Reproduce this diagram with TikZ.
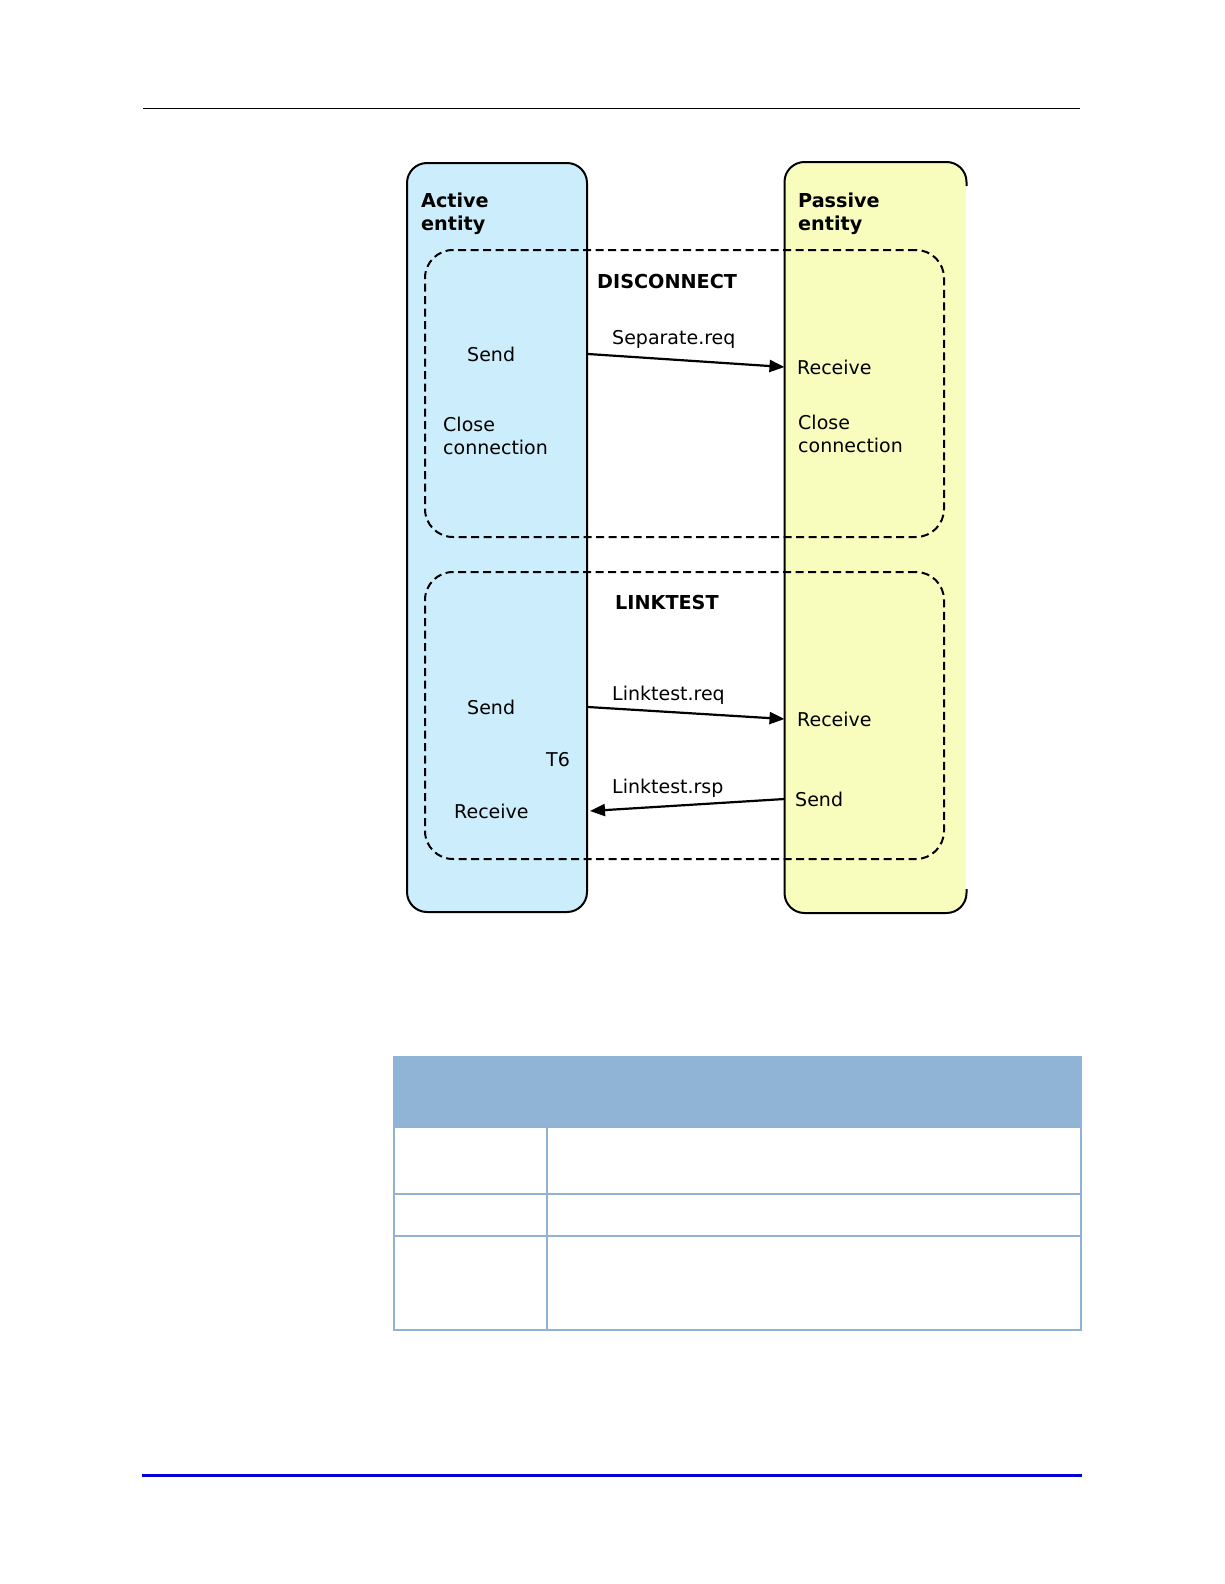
\documentclass[tikz,border=0pt]{standalone}
\usepackage{fontspec}
\setmainfont{DejaVu Sans}
\usepackage{tikz}
\usetikzlibrary{arrows.meta,positioning}
\definecolor{activefill}{RGB}{204,238,252}
\definecolor{passivefill}{RGB}{248,253,190}
\definecolor{tablehead}{RGB}{143,180,214}
\definecolor{tableline}{RGB}{146,178,211}
\definecolor{rulenavy}{RGB}{0,0,215}

\begin{document}
\begin{tikzpicture}[
 x=1pt,y=-1pt,
 lane/.style={draw,line width=2pt,rounded corners=20pt,minimum width=180pt,minimum height=749pt,inner sep=0pt},
 frame/.style={draw,dashed,dash pattern=on 8pt off 4.5pt,line width=2pt,rounded corners=28pt,minimum width=519pt,minimum height=287pt,inner sep=0pt},
 lbl/.style={anchor=west,inner sep=0pt,align=left,font=\fontsize{19}{22.5}\selectfont},
 head/.style={lbl,font=\fontsize{19.2}{22.5}\selectfont\bfseries},
 msg/.style={-{Triangle[length=15pt,width=12pt]},line width=2.2pt}
]
\useasboundingbox (0,0) rectangle (1224,1584);
% page rules
\draw[line width=0.8pt] (143,108) -- (1080,108);
\draw[rulenavy,line width=3pt] (142,1475) -- (1082,1475);

% lanes
\node[lane,fill=activefill] (active) at (497,537.5) {};
\node[lane,draw=none,fill=passivefill] (passive) at (875.5,537.5) {};
\draw[line width=2pt,rounded corners=20pt] ([yshift=-24pt]passive.north east) |- (passive.north west)
 -- (passive.south west) -| ([yshift=24pt]passive.south east);
\node[head] (activet) at (421,214) {Active\\entity};
\node[head] (passivet) at (798,214) {Passive\\entity};

% DISCONNECT frame
\node[frame] (disc) at (684.5,393.5) {};
\node[head] (disct) at (597,282) {DISCONNECT};
\node[lbl] (sendA1) at (467,354) {Send};
\node[lbl] (recvP1) at (797,367) {Receive};
\node[lbl] (closeA) at (443,436) {Close\\connection};
\node[lbl] (closeP) at (798,434) {Close\\connection};
\node[lbl] (sepreq) at (612,339) {Separate.req};
\draw[msg] (sendA1 -| active.east) -- (recvP1 -| passive.west);

% LINKTEST frame
\node[frame] (link) at (684.5,715.5) {};
\node[head] (linkt) at (615,603) {LINKTEST};
\node[lbl] (sendA2) at (467,707) {Send};
\node[lbl] (recvP2) at (797,719) {Receive};
\node[lbl] (tsix) at (546,760) {T6};
\node[lbl] (sendP2) at (795,799) {Send};
\node[lbl] (recvA2) at (454,811) {Receive};
\node[lbl] (lreq) at (612,695) {Linktest.req};
\node[lbl] (lrsp) at (612,788) {Linktest.rsp};
\draw[msg] (sendA2 -| active.east) -- (recvP2 -| passive.west);
\draw[msg] (sendP2 -| passive.west) -- ([xshift=2pt]recvA2 -| active.east);

% table
\fill[tablehead] (393,1056) rectangle (1082,1127);
\draw[tableline,line width=1.8pt] (394,1127) rectangle (1081,1330);
\draw[tableline,line width=1.8pt] (547,1127) -- (547,1330);
\foreach \ry in {1194,1236}
 \draw[tableline,line width=1.8pt] (394,\ry) -- (1081,\ry);
\end{tikzpicture}
\end{document}
